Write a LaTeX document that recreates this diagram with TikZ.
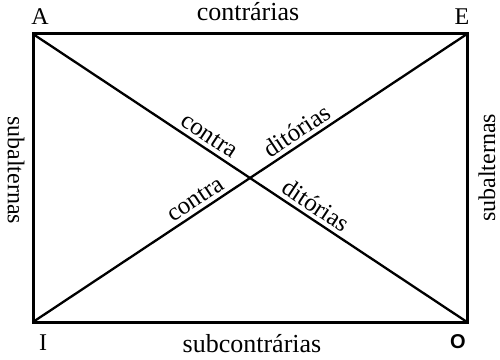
\documentclass[tikz,border=0pt]{standalone}
\usepackage{fontspec}
\setmainfont{Liberation Serif}
\setsansfont{Liberation Sans}
\begin{document}
\begin{tikzpicture}[x=1pt,y=1pt,
  frame/.style={line width=3pt},
  diag/.style={line width=2.3pt},
  corner/.style={inner sep=0pt,anchor=base,font=\fontsize{24}{28}\selectfont},
  hlabel/.style={inner sep=0pt,anchor=base,font=\fontsize{26}{30}\selectfont},
  vlabel/.style={inner sep=0pt,font=\fontsize{24}{28}\selectfont},
  dlabel/.style={inner sep=1pt,sloped,above=3pt,font=\fontsize{25}{30}\selectfont}]
\useasboundingbox (0,0) rectangle (500,359);
\coordinate (A) at (33,325);
\coordinate (E) at (467,325);
\coordinate (I) at (33,37);
\coordinate (O) at (467,37);
\draw[frame] (A) -- (E) -- (O) -- (I) -- cycle;
\draw[diag] (A) -- (O)
  node[dlabel,pos=0.39] (c1) {contra}
  node[dlabel,pos=0.635] (d2) {ditórias};
\draw[diag] (I) -- (E)
  node[dlabel,pos=0.39] (c2) {contra}
  node[dlabel,pos=0.625] (d1) {ditórias};
\node[corner] (la) at (40,334) {A};
\node[corner] (le) at (462,334) {E};
\node[corner] (li) at (43,9) {I};
\node[corner,font=\fontsize{20}{24}\selectfont\sffamily\bfseries] (lo) at (458,11) {O};
\node[hlabel] (top) at (248,338) {contrárias};
\node[hlabel] (bot) at (252,7) {subcontrárias};
\node[vlabel,rotate=-90] (left) at (16,189) {subalternas};
\node[vlabel,rotate=90] (right) at (487,191) {subalternas};
\end{tikzpicture}
\end{document}
